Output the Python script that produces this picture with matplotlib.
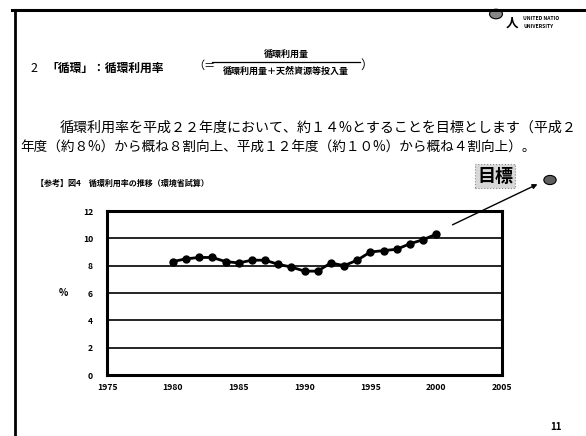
import matplotlib
matplotlib.use("Agg")
import matplotlib.pyplot as plt
from matplotlib.lines import Line2D
from matplotlib.patches import Circle, FancyArrowPatch

plt.rcParams['font.family'] = ['Noto Sans CJK JP', 'DejaVu Sans']

years = list(range(1980, 2001))
rate = [8.3, 8.5, 8.6, 8.6, 8.3, 8.2, 8.4, 8.4, 8.1, 7.9, 7.6,
        7.6, 8.2, 8.0, 8.4, 9.0, 9.1, 9.2, 9.6, 9.9, 10.3]
x_ticks = [1975, 1980, 1985, 1990, 1995, 2000, 2005]
y_ticks = [0, 2, 4, 6, 8, 10, 12]

W, H = 586, 436
fig = plt.figure(figsize=(W / 100, H / 100), dpi=100)
fig.patch.set_facecolor('white')

def fx(px):
    return px / W

def fy(py):
    return 1 - py / H

# slide frame
fig.add_artist(Line2D([fx(12), fx(586)], [fy(10), fy(10)], color='black', lw=2.2))
fig.add_artist(Line2D([fx(15), fx(15)], [fy(10), fy(436)], color='black', lw=2.0))

# logo
fig.add_artist(Circle((fx(496), fy(14)), 0.011, transform=fig.transFigure,
                      facecolor='#888888', edgecolor='black', lw=0.8))
fig.text(fx(512), fy(23), '人', fontsize=9, fontweight='bold', ha='center', va='center')
fig.text(fx(523), fy(19), 'UNITED NATIO', fontsize=3.6, fontweight='bold', ha='left', va='center')
fig.text(fx(523), fy(26), 'UNIVERSITY', fontsize=3.6, fontweight='bold', ha='left', va='center')

# title with fraction
fig.text(fx(30), fy(68), '2', fontsize=9, ha='left', va='center')
fig.text(fx(46), fy(68), '「循環」：循環利用率', fontsize=8.5, fontweight='bold', ha='left', va='center')
fig.text(fx(193), fy(66), '（＝', fontsize=8, ha='left', va='center')
fig.add_artist(Line2D([fx(212), fx(360)], [fy(62), fy(62)], color='black', lw=0.9))
fig.text(fx(286), fy(54), '循環利用量', fontsize=6.5, fontweight='bold', ha='center', va='center')
fig.text(fx(286), fy(71), '循環利用量＋天然資源等投入量', fontsize=6.5, fontweight='bold', ha='center', va='center')
fig.text(fx(360), fy(65), '）', fontsize=9, ha='left', va='center')

# body text
fig.text(fx(60), fy(128), '循環利用率を平成２２年度において、約１４%とすることを目標とします（平成２',
         fontsize=10.1, ha='left', va='center')
fig.text(fx(20), fy(147), '年度（約８%）から概ね８割向上、平成１２年度（約１０%）から概ね４割向上）。',
         fontsize=9.8, ha='left', va='center')

# caption
fig.text(fx(36), fy(183), '【参考】図4　循環利用率の推移（環境省試算）', fontsize=5.8,
         fontweight='bold', ha='left', va='center')

# target label and marker
fig.text(fx(495), fy(176), '目標', fontsize=13, fontweight='bold', ha='center', va='center',
         bbox=dict(boxstyle='square,pad=0.12', facecolor='#d8d8d8', edgecolor='#888888',
                   linestyle=':', lw=0.8))
fig.add_artist(Circle((fx(550), fy(180)), 0.0105, transform=fig.transFigure,
                      facecolor='#606060', edgecolor='black', lw=0.8))

# axes
ax = fig.add_axes([fx(107), fy(375), fx(502) - fx(107), fy(211) - fy(375)])
ax.plot(years, rate, color='black', lw=2.0, marker='o', markersize=5)
ax.set_xlim(1975, 2005)
ax.set_ylim(0, 12)
ax.set_xticks(x_ticks)
ax.set_yticks(y_ticks)
ax.set_xticklabels([str(v) for v in x_ticks], fontsize=6.2, fontweight='bold')
ax.set_yticklabels([str(v) for v in y_ticks], fontsize=6.2, fontweight='bold')
for v in y_ticks[1:-1]:
    ax.axhline(v, color='black', lw=1.2, zorder=0)
for s in ax.spines.values():
    s.set_linewidth(2.2)
ax.tick_params(axis='y', length=0, pad=10)
ax.tick_params(axis='x', length=0, pad=6)
ax.set_ylabel('%', fontsize=7, fontweight='bold', rotation=0, labelpad=14, va='center')

# arrow from data end to target
fig.add_artist(FancyArrowPatch(
    (fx(450), fy(226)), (fx(540), fy(183)), transform=fig.transFigure,
    arrowstyle='-|>', mutation_scale=7, color='black', lw=1.0))

# page number
fig.text(fx(556), fy(427), '11', fontsize=7, fontweight='bold', ha='center', va='center')

fig.savefig('out.png', dpi=100)
